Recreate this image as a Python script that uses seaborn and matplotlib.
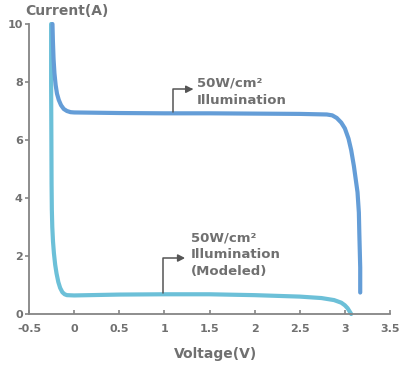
import matplotlib
matplotlib.use("Agg")
import matplotlib.pyplot as plt
import seaborn as sns
import pandas as pd

# Measured curve (50W/cm2 illumination)
meas_v = [-0.24, -0.235, -0.228, -0.218, -0.205, -0.19, -0.17, -0.145, -0.115, -0.08, -0.04, 0.0, 0.5, 1.0,
          1.5, 2.0, 2.5, 2.8, 2.86, 2.91, 2.96, 3.0, 3.04, 3.07, 3.10, 3.12, 3.14, 3.155, 3.16, 3.165,
          3.17, 3.17]
meas_i = [10.0, 9.4, 8.8, 8.3, 7.9, 7.6, 7.38, 7.2, 7.07, 7.0, 6.96, 6.95, 6.93, 6.92,
          6.92, 6.91, 6.9, 6.88, 6.85, 6.76, 6.6, 6.4, 6.05, 5.65, 5.1, 4.65, 4.2, 3.5, 2.8, 2.2,
          1.6, 0.74]

# Modeled curve
model_v = [-0.255, -0.255, -0.252, -0.25, -0.247, -0.242, -0.234, -0.224, -0.21, -0.195, -0.175, -0.155,
           -0.13, -0.105, -0.08, 0.0, 0.5, 1.0, 1.5, 2.0, 2.5, 2.74, 2.88, 2.96, 3.0, 3.03, 3.05, 3.07]
model_i = [10.0, 8.0, 6.0, 4.5, 3.6, 3.0, 2.5, 2.1, 1.7, 1.4, 1.1, 0.9,
           0.75, 0.68, 0.65, 0.64, 0.67, 0.68, 0.68, 0.65, 0.6, 0.55, 0.48, 0.39, 0.3, 0.2, 0.1, 0.0]

x_ticks = [-0.5, 0, 0.5, 1, 1.5, 2, 2.5, 3, 3.5]
x_tick_labels = ["-0.5", "0", "0.5", "1", "1.5", "2", "2.5", "3", "3.5"]
y_ticks = [0, 2, 4, 6, 8, 10]

# Annotation anchors (data coords): start on curve, arrow tip, text anchor
ann1_start = (1.10, 6.95)
ann1_tip = (1.32, 7.75)
ann1_text = (1.36, 7.66)
ann1_label = "50W/cm²\nIllumination"

ann2_start = (0.98, 0.72)
ann2_tip = (1.23, 1.93)
ann2_text = (1.29, 2.05)
ann2_label = "50W/cm²\nIllumination\n(Modeled)"

df_meas = pd.DataFrame({"V": meas_v, "I": meas_i})
df_model = pd.DataFrame({"V": model_v, "I": model_i})

sns.set_theme(style="ticks")
plt.rcParams["font.family"] = ["DejaVu Sans"]

fig = plt.figure(figsize=(3.99, 3.67), dpi=100)
ax = fig.add_axes([29/399, 1 - 314/367, 361/399, 290/367])

text_col = "#707070"
spine_col = "#858585"
blue = "#649dd7"
cyan = "#6cc0d8"

sns.lineplot(data=df_model, x="V", y="I", sort=False, estimator=None, ax=ax,
             color=cyan, lw=3.0, solid_capstyle="round", clip_on=False)
sns.lineplot(data=df_meas, x="V", y="I", sort=False, estimator=None, ax=ax,
             color=blue, lw=3.0, solid_capstyle="round", clip_on=False)

ax.set_xlim(-0.5, 3.5)
ax.set_ylim(0, 10)
ax.set_xticks(x_ticks)
ax.set_xticklabels(x_tick_labels)
ax.set_yticks(y_ticks)

for s in ["top", "right"]:
    ax.spines[s].set_visible(False)
for s in ["left", "bottom"]:
    ax.spines[s].set_color(spine_col)
    ax.spines[s].set_linewidth(1.3)

ax.tick_params(axis="x", direction="in", length=3, width=1.2, color=spine_col,
               labelsize=8, labelcolor=text_col, pad=7)
ax.tick_params(axis="y", direction="out", length=3, width=1.2, color=spine_col,
               labelsize=8, labelcolor=text_col, pad=1.5)
for lab in ax.get_xticklabels() + ax.get_yticklabels():
    lab.set_fontweight("semibold")

ax.set_xlabel("Voltage(V)", fontsize=10, color=text_col, fontweight="semibold")
ax.xaxis.set_label_coords((216 - 29) / 361, (314 - 354) / 290)
ax.xaxis.label.set_va("center")
ax.set_ylabel("Current(A)", fontsize=10, color=text_col, fontweight="semibold",
              rotation=0)
ax.yaxis.set_label_coords((67 - 29) / 361, (314 - 11) / 290)
ax.yaxis.label.set_va("center")
ax.yaxis.label.set_ha("center")

arrow_kw = dict(arrowstyle="-|>,head_length=0.35,head_width=0.18", color="#555555", lw=1.1,
                shrinkA=0, shrinkB=0, connectionstyle="angle,angleA=90,angleB=0,rad=0")
ax.annotate("", xy=ann1_tip, xytext=ann1_start, arrowprops=arrow_kw)
ax.annotate("", xy=ann2_tip, xytext=ann2_start, arrowprops=arrow_kw)

ax.text(*ann1_text, ann1_label, fontsize=9.5, color=text_col, fontweight="semibold",
        ha="left", va="center", linespacing=1.45)
ax.text(*ann2_text, ann2_label, fontsize=9.5, color=text_col, fontweight="semibold",
        ha="left", va="center", linespacing=1.4)

fig.savefig("out.png", dpi=100)
